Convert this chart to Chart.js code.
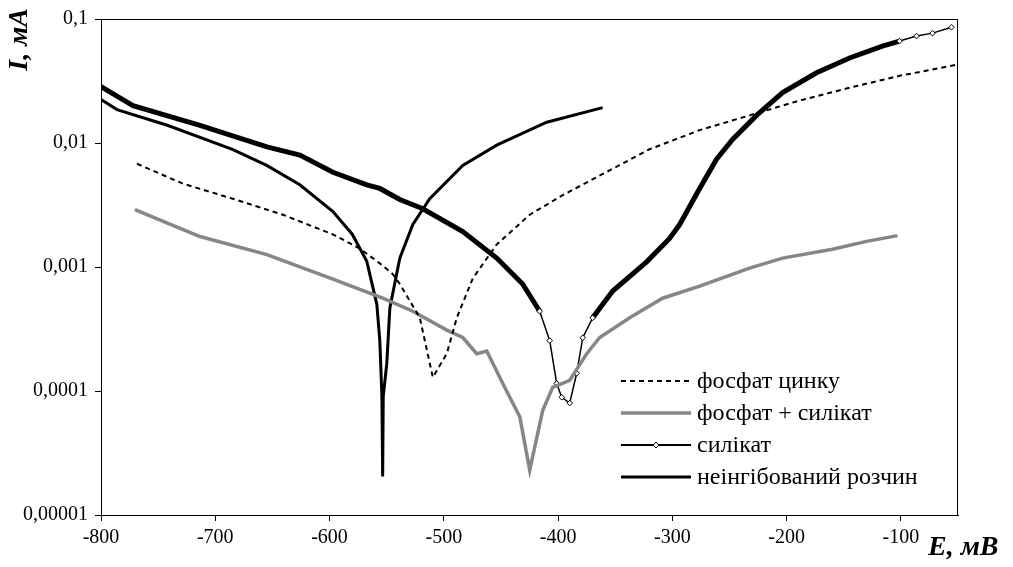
<!DOCTYPE html>
<html><head><meta charset="utf-8">
<script src="https://cdn.jsdelivr.net/npm/chart.js@4.4.0/dist/chart.umd.min.js"></script>
<style>html,body{margin:0;padding:0;background:#fff;}#wrap{width:1013px;height:567px;}</style>
</head><body><div id="wrap"><canvas id="c" width="1013" height="567"></canvas></div>
<script>
// ---- data ----
const seriesNames = ['фосфат цинку', 'фосфат + силікат', 'силікат', 'неінгібований розчин'];
const xTitle = 'E, мВ';
const yTitle = 'I, мА';
const xMin = -800, xMax = -50, xStep = 100;
const yTickValues = [0.00001, 0.0001, 0.001, 0.01, 0.1];
const yTickLabels = ['0,00001', '0,0001', '0,001', '0,01', '0,1'];

const phosE = [-768.5, -728.3, -684.6, -640.8, -597, -573.5, -556, -544.6, -538.5, -521, -509.6, -497.4, -488.6, -474.6, -453.7, -424.8, -395.9, -352.2, -320, -276.1, -232.4, -188.7, -144.9, -101.2, -51.4];
const phosI = [0.0068, 0.0047, 0.00355, 0.00264, 0.00183, 0.00141, 0.00107, 0.000875, 0.00073, 0.00039, 0.000129, 0.0002, 0.00039, 0.00081, 0.00152, 0.00264, 0.0038, 0.0062, 0.0089, 0.0127, 0.0167, 0.022, 0.0279, 0.0348, 0.0427];

const phosSilE = [-770.3, -713.4, -654.8, -597, -553.4, -527.1, -497.4, -483.4, -471.2, -462.4, -448.4, -433.5, -424.8, -413.4, -404.7, -389.8, -374.9, -363.6, -337.3, -308.5, -276.1, -232.4, -203.5, -159.8, -130, -102.9];
const phosSilI = [0.0029, 0.00176, 0.00126, 0.0008, 0.00056, 0.00044, 0.00031, 0.00027, 0.0002, 0.00021, 0.000115, 0.000062, 0.000023, 0.00007, 0.000107, 0.000122, 0.0002, 0.00027, 0.00039, 0.00056, 0.0007, 0.00098, 0.00118, 0.00139, 0.00161, 0.00179];

const silE = [-800, -772, -713.4, -654.8, -626, -597, -567.4, -556, -538.5, -518.4, -483.4, -453.7, -431, -416.1, -407.3, -401.2, -396.8, -389.8, -383.7, -378.4, -369.7, -352.2, -322.5, -302.4, -293.6, -276.1, -261.3, -247.3, -226.3, -203.5, -173.8, -144.9, -116.1, -101.2, -86.3, -72.3, -55.7];
const silI = [0.0285, 0.02, 0.0139, 0.0093, 0.008, 0.0058, 0.0046, 0.0043, 0.0035, 0.00295, 0.00193, 0.00118, 0.00073, 0.00044, 0.000255, 0.000115, 0.000089, 0.00008, 0.000139, 0.000269, 0.000389, 0.00064, 0.0011, 0.0017, 0.0022, 0.0043, 0.0074, 0.0107, 0.0167, 0.0255, 0.0368, 0.0485, 0.0605, 0.0664, 0.0728, 0.0769, 0.0859];

const blankE = [-800, -786, -742, -685, -655, -626, -597, -580, -567.4, -558.6, -556, -554.2, -553.5, -553, -549.9, -547.2, -538.5, -527.1, -512.3, -483.4, -453.7, -409.9, -361];
const blankI = [0.0224, 0.0186, 0.0139, 0.0089, 0.0066, 0.0046, 0.0028, 0.00183, 0.00111, 0.0005, 0.000255, 0.0000925, 0.0000204, 0.00009, 0.000167, 0.000468, 0.00118, 0.0022, 0.00355, 0.0066, 0.0096, 0.0147, 0.0193];

// ---- build ----
const pts = (xs, ys) => xs.map((x, i) => ({x: x, y: ys[i]}));
const FONT = '"Liberation Serif", "Times New Roman", serif';
const isThinSil = x => (x >= -420 && x <= -368) || x >= -102;

const styles = [
  {color: '#000', width: 2, dash: [5, 4]},
  {color: '#868686', width: 3.5, dash: []},
  {color: '#000', width: 2, dash: [], marker: true},
  {color: '#000', width: 3, dash: []}
];

const datasets = [
  {label: seriesNames[0], data: pts(phosE, phosI), borderColor: '#000', borderWidth: 2, borderDash: [5, 4], pointRadius: 0, tension: 0},
  {label: seriesNames[1], data: pts(phosSilE, phosSilI), borderColor: '#868686', borderWidth: 3.5, pointRadius: 0, tension: 0},
  {label: seriesNames[2], data: pts(silE, silI), borderColor: '#000', borderWidth: 5,
    pointRadius: ctx => (ctx.raw && isThinSil(ctx.raw.x)) ? 2.8 : 0,
    pointStyle: 'rectRot', pointBackgroundColor: '#fff', pointBorderColor: '#000', pointBorderWidth: 1, tension: 0,
    segment: {borderWidth: ctx => {
      const a = ctx.p0.parsed.x, b = ctx.p1.parsed.x;
      if ((a >= -420 && b <= -368) || a >= -102) return 1.5;
      return 5;
    }}},
  {label: seriesNames[3], data: pts(blankE, blankI), borderColor: '#000', borderWidth: 3, pointRadius: 0, tension: 0}
];

const decor = {
  id: 'decor',
  afterDraw(chart) {
    const ctx = chart.ctx, a = chart.chartArea;
    ctx.save();
    ctx.strokeStyle = '#000'; ctx.lineWidth = 1;
    ctx.strokeRect(Math.round(a.left) + 0.5, Math.round(a.top) + 0.5, Math.round(a.right - a.left) - 1, Math.round(a.bottom - a.top));
    // axis titles
    ctx.fillStyle = '#000';
    ctx.font = 'bold italic 28px ' + FONT;
    ctx.textBaseline = 'middle';
    ctx.textAlign = 'left';
    ctx.fillText(xTitle, 928, 548);
    ctx.save();
    ctx.translate(20, 8);
    ctx.rotate(-Math.PI / 2);
    ctx.textAlign = 'right';
    ctx.fillText(yTitle, 0, 0);
    ctx.restore();
    // legend
    const x0 = 621, x1 = 691, tx = 697, rows = [381, 413, 445, 477];
    ctx.font = '24px ' + FONT;
    ctx.textAlign = 'left';
    rows.forEach((y, i) => {
      const s = styles[i];
      ctx.save();
      ctx.strokeStyle = s.color; ctx.lineWidth = s.width; ctx.setLineDash(s.dash);
      ctx.beginPath(); ctx.moveTo(x0, y); ctx.lineTo(x1, y); ctx.stroke();
      ctx.restore();
      if (s.marker) {
        const cx = (x0 + x1) / 2, r = 3;
        ctx.save();
        ctx.fillStyle = '#fff'; ctx.strokeStyle = '#000'; ctx.lineWidth = 1;
        ctx.beginPath(); ctx.moveTo(cx, y - r); ctx.lineTo(cx + r, y); ctx.lineTo(cx, y + r); ctx.lineTo(cx - r, y); ctx.closePath();
        ctx.fill(); ctx.stroke();
        ctx.restore();
      }
      ctx.fillStyle = '#000';
      ctx.fillText(seriesNames[i], tx, y + 1);
    });
    ctx.restore();
  }
};

new Chart(document.getElementById('c'), {
  type: 'line',
  data: {datasets: datasets},
  options: {
    responsive: false,
    animation: false,
    devicePixelRatio: 1,
    layout: {padding: {left: 0, right: 55, top: 15, bottom: 0}},
    plugins: {legend: {display: false}, tooltip: {enabled: false}},
    scales: {
      x: {
        type: 'linear', min: xMin, max: xMax,
        afterFit: s => { s.height = 52; },
        ticks: {stepSize: xStep, includeBounds: false, color: '#000', font: {family: FONT, size: 20}, padding: 5, maxRotation: 0,
          callback: v => String(v)},
        grid: {display: true, drawOnChartArea: false, drawTicks: true, tickLength: 6, color: '#000'},
        border: {display: true, color: '#000', width: 1}
      },
      y: {
        type: 'logarithmic', min: yTickValues[0], max: yTickValues[yTickValues.length - 1],
        afterFit: s => { s.width = 101; },
        afterBuildTicks: s => { s.ticks = yTickValues.map(v => ({value: v})); },
        ticks: {color: '#000', font: {family: FONT, size: 20}, padding: 7,
          callback: (v, i) => yTickLabels[i]},
        grid: {display: true, drawOnChartArea: false, drawTicks: true, tickLength: 6, color: '#000'},
        border: {display: true, color: '#000', width: 1}
      }
    }
  },
  plugins: [decor]
});
</script></body></html>
